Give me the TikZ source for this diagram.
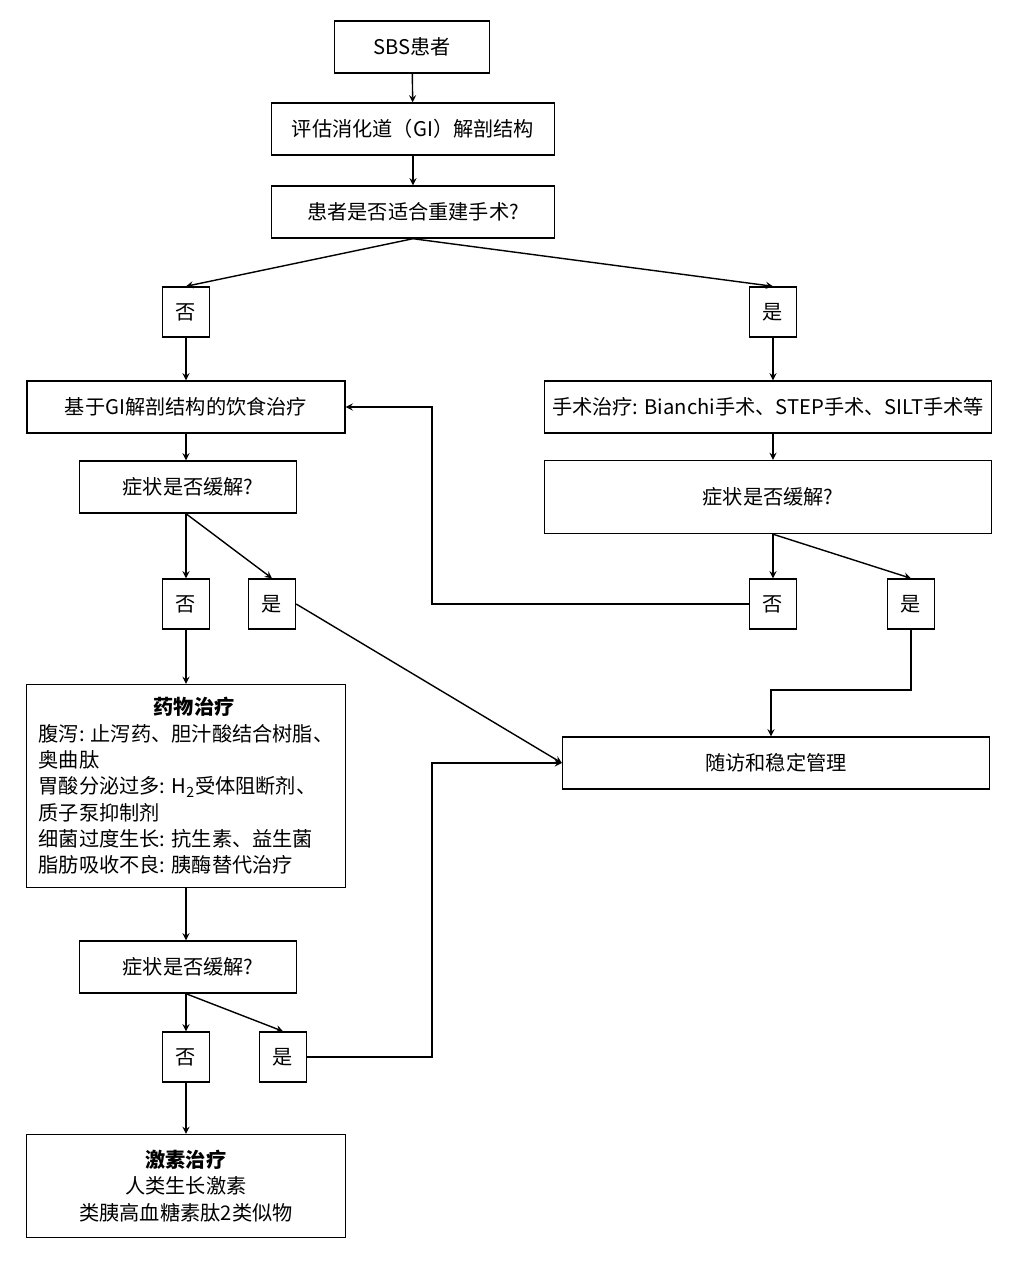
\documentclass[tikz,border=0pt]{standalone}
\usepackage{fontspec}
\setmainfont{Noto Sans CJK SC}
\usetikzlibrary{positioning}
\tikzset{
	box/.style={draw,thick,minimum height=1.04cm,align=center,inner sep=2pt},
	yn/.style={draw,thick,minimum width=0.94cm,minimum height=1cm},
	arr/.style={->,thick,>=stealth}
}
\begin{document}
\begin{tikzpicture}[x=0.02cm,y=-0.02cm,font=\fontsize{11.5}{15}\selectfont]
	\useasboundingbox (0,0) rectangle (1012,1262);
	
	\node[box,minimum width=3.1cm] (sbs) at (412,47) {SBS患者};
	\node[box,minimum width=5.66cm] (gi) at (413,129) {评估消化道（GI）解剖结构};
	\node[box,minimum width=5.66cm] (fit) at (413,212) {患者是否适合重建手术?};
	
	\node[yn] (n1) at (186,312) {否};
	\node[yn] (y1) at (773,312) {是};
	
	\node[box,minimum width=6.36cm] (diet) at (186,407) {基于GI解剖结构的饮食治疗};
	\node[box,minimum width=8.94cm] (op) at (768,407) {手术治疗: Bianchi手术、STEP手术、SILT手术等};
	
	\node[box,minimum width=4.34cm] (q1) at (188,487) {症状是否缓解?};
	\node[box,minimum width=8.94cm,minimum height=1.46cm] (q2) at (768,497) {症状是否缓解?};
	
	\node[yn] (n2) at (186,604) {否};
	\node[yn] (y2) at (272,604) {是};
	\node[yn] (n3) at (773,604) {否};
	\node[yn] (y3) at (911,604) {是};
	
	\node[box,minimum width=6.38cm,minimum height=4.06cm,align=left] (drug) at (186,786) {%
		\hspace*{2.3cm}\textbf{药物治疗}\\
		腹泻: 止泻药、胆汁酸结合树脂、\\
		奥曲肽\\
		胃酸分泌过多: H\textsubscript{2}受体阻断剂、\\
		质子泵抑制剂\\
		细菌过度生长: 抗生素、益生菌\\
		脂肪吸收不良: 胰酶替代治疗};
	\node[box,minimum width=8.54cm] (fu) at (776,763) {随访和稳定管理};
	
	\node[box,minimum width=4.34cm] (q3) at (188,967) {症状是否缓解?};
	\node[yn] (n4) at (186,1057) {否};
	\node[yn] (y4) at (283,1057) {是};
	
	\node[box,minimum width=6.38cm,minimum height=2.06cm] (hor) at (186,1186) {\textbf{激素治疗}\\人类生长激素\\类胰高血糖素肽2类似物};
	
	\draw[arr] (sbs) -- (gi);
	\draw[arr] (gi) -- (fit);
	\draw[arr] (fit.south) -- (n1.north);
	\draw[arr] (fit.south) -- (y1.north);
	\draw[arr] (n1) -- (diet);
	\draw[arr] (y1) -- (op.north -| y1);
	\draw[arr] (diet.south -| n1) -- (q1.north -| n1);
	\draw[arr] (op.south -| n3) -- (q2.north -| n3);
	\draw[arr] (q1.south -| n2) -- (n2);
	\draw[arr] (q1.south -| n2) -- (y2.north);
	\draw[arr] (q2.south -| n3) -- (n3);
	\draw[arr] (q2.south -| n3) -- (y3.north);
	\draw[arr] (n3.west) -- (432,604) -- (432,407) -- (diet.east);
	\draw[arr] (y3.south) -- (911,690) -- (771,690) -- (fu.north -| 771,0);
	\draw[arr] (y2.east) -- (fu.west);
	\draw[arr] (n2) -- (drug.north -| n2);
	\draw[arr] (drug.south -| n2) -- (q3.north -| n2);
	\draw[arr] (q3.south -| n4) -- (n4);
	\draw[arr] (q3.south -| n4) -- (y4.north);
	\draw[arr] (y4.east) -- (432,1057) -- (432,763) -- (fu.west);
	\draw[arr] (n4) -- (hor.north -| n4);
\end{tikzpicture}
\end{document}
